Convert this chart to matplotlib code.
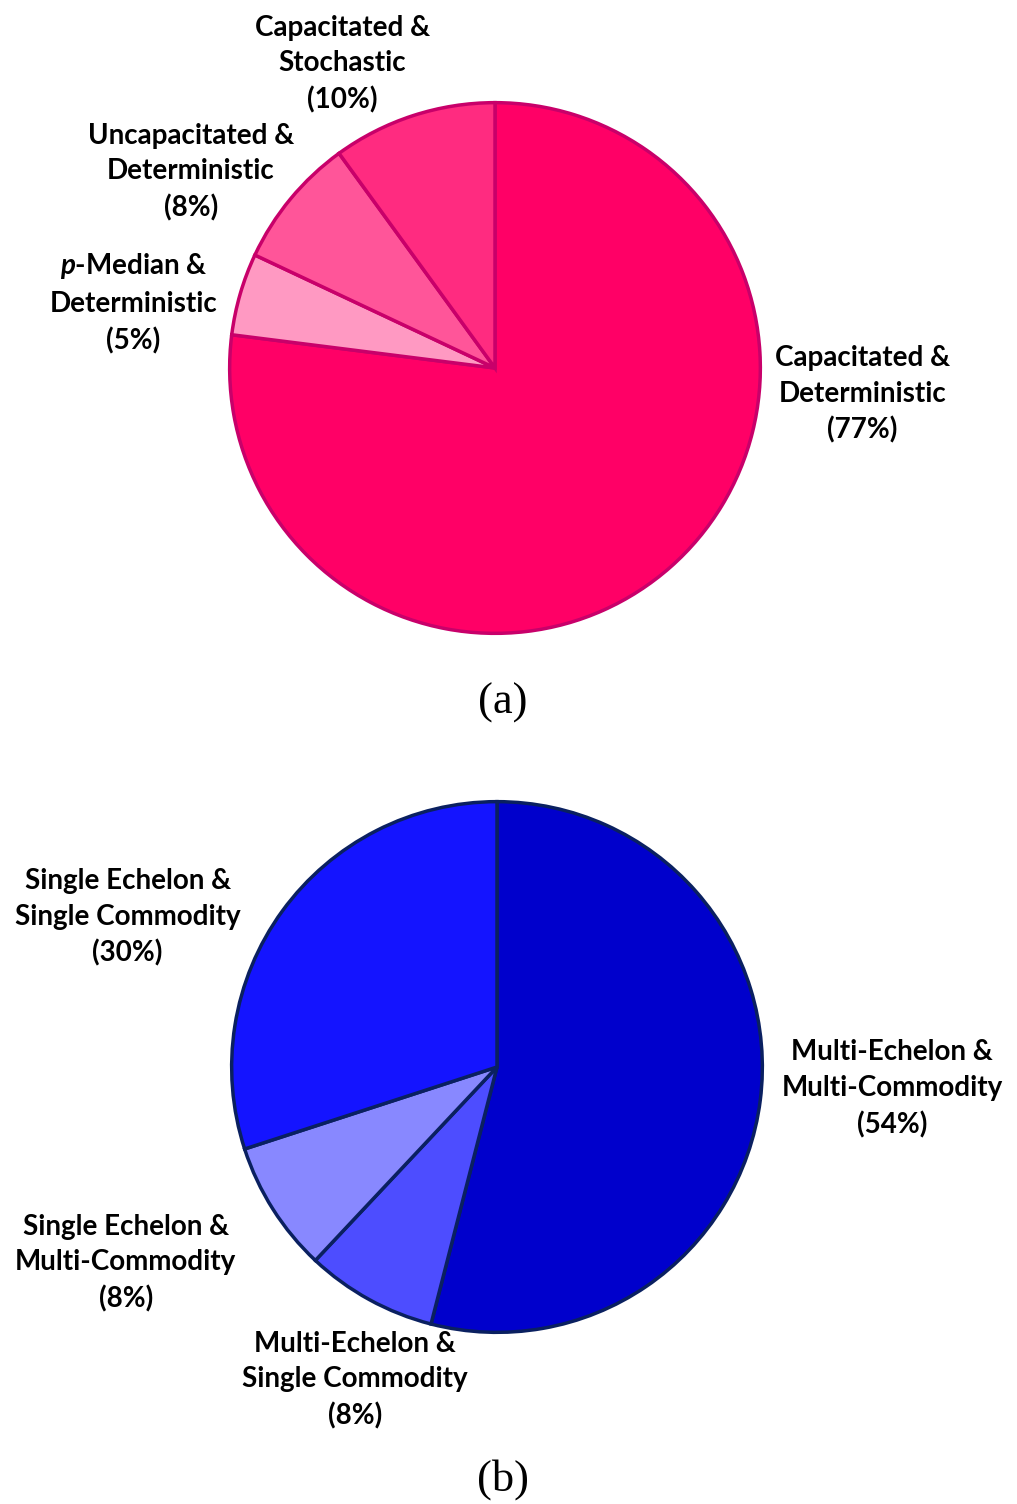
import matplotlib as mpl
mpl.use('Agg')
import matplotlib.pyplot as plt

plt.rcParams['font.family'] = ['Lato', 'DejaVu Sans']
plt.rcParams['mathtext.fontset'] = 'custom'
plt.rcParams['mathtext.it'] = 'Lato:italic:bold'
plt.rcParams['mathtext.rm'] = 'Lato:bold'

# (a) facility location problem types
labelsA = ['Capacitated &\nDeterministic\n(77%)', '$p$-Median &\nDeterministic\n(5%)',
           'Uncapacitated &\nDeterministic\n(8%)', 'Capacitated &\nStochastic\n(10%)']
valuesA = [77, 5, 8, 10]
colorsA = ['#FF0066', '#FF99C2', '#FF5599', '#FF2B80']

# (b) echelon / commodity types
labelsB = ['Multi-Echelon &\nMulti-Commodity\n(54%)', 'Multi-Echelon &\nSingle Commodity\n(8%)',
           'Single Echelon &\nMulti-Commodity\n(8%)', 'Single Echelon &\nSingle Commodity\n(30%)']
valuesB = [54, 8, 8, 30]
colorsB = ['#0000CC', '#4D4DFF', '#8888FF', '#1414FF']

# label centres, in units of pie radius
posA = [(1.384, -0.10), (-1.362, 0.246), (-1.146, 0.739), (-0.575, 1.146)]
posB = [(1.489, -0.082), (-0.534, -1.179), (-1.399, -0.739), (-1.392, 0.563)]

W, H = 1017, 1504
fig = plt.figure(figsize=(W / 100, H / 100), dpi=100)

def drawPie(cx, cy, r, values, colors, labels, pos, edge):
    ax = fig.add_axes([(cx - r) / W, 1 - (cy + r) / H, 2 * r / W, 2 * r / H])
    ax.pie(values, colors=colors, startangle=90, counterclock=False, radius=1,
           wedgeprops=dict(edgecolor=edge, linewidth=2.5))
    ax.set_xlim(-1.01, 1.01)
    ax.set_ylim(-1.01, 1.01)
    ax.axis('off')
    for lab, (x, y) in zip(labels, pos):
        ax.text(x, y, lab, ha='center', va='center', fontsize=20, fontweight='bold',
                linespacing=1.45, clip_on=False)
    return ax

drawPie(495, 368, 268, valuesA, colorsA, labelsA, posA, '#C8006A')
drawPie(497, 1067, 268, valuesB, colorsB, labelsB, posB, '#0A2060')

fig.text(503 / W, 1 - 703 / H, '(a)', ha='center', va='center', fontsize=32,
         family='Liberation Serif')
fig.text(503 / W, 1 - 1480 / H, '(b)', ha='center', va='center', fontsize=32,
         family='Liberation Serif')

plt.savefig('out.png', dpi=100)
